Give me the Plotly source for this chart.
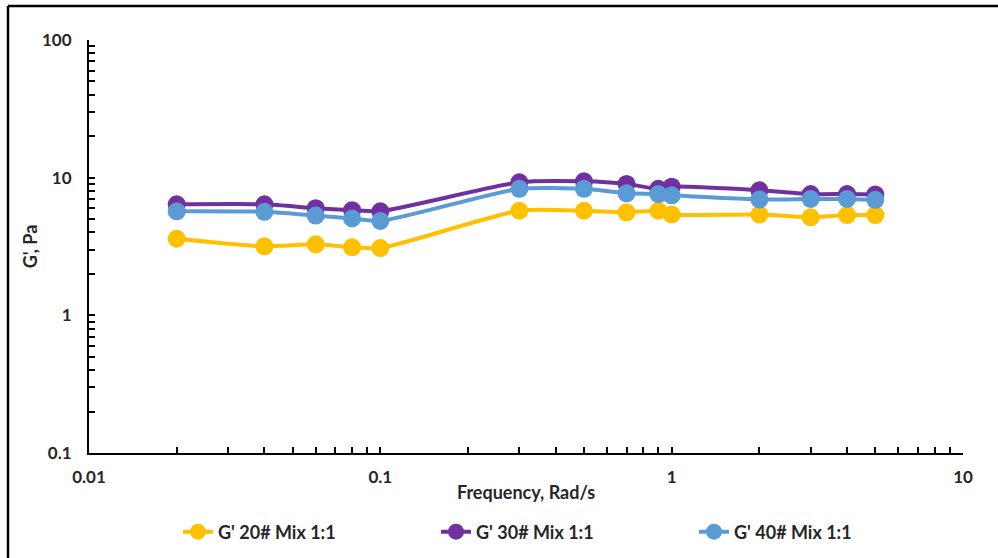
import plotly.graph_objects as go

freq = [0.02, 0.04, 0.06, 0.08, 0.1, 0.3, 0.5, 0.7, 0.9, 1, 2, 3, 4, 5]
g20 = [3.6, 3.17, 3.28, 3.12, 3.08, 5.75, 5.75, 5.6, 5.75, 5.4, 5.4, 5.15, 5.35, 5.35]
g30 = [6.4, 6.4, 6.0, 5.8, 5.7, 9.25, 9.4, 9.0, 8.3, 8.6, 8.1, 7.6, 7.6, 7.55]
g40 = [5.7, 5.65, 5.3, 5.05, 4.85, 8.3, 8.3, 7.7, 7.6, 7.45, 6.95, 7.0, 7.0, 6.9]

names = ["G' 20# Mix 1:1", "G' 30# Mix 1:1", "G' 40# Mix 1:1"]
colors = ["#FFC000", "#7030A0", "#5B9BD5"]
series = [g20, g30, g40]

x_major = [0.01, 0.1, 1, 10]
x_major_text = ["0.01", "0.1", "1", "10"]
y_major = [0.1, 1, 10, 100]
y_major_text = ["0.1", "1", "10", "100"]

x_minor = [m * d for d in (0.01, 0.1, 1) for m in range(2, 10)]
y_minor = [m * d for d in (0.1, 1, 10) for m in range(2, 10)]

font_fam = "Lato, 'Liberation Sans', sans-serif"
txt_col = "#262626"

PL, PR, PT, PB = 89, 963, 40, 453
PW, PH = PR - PL, PB - PT

legend_ids = ["legend", "legend2", "legend3"]
legend_px = [178, 436, 694]

fig = go.Figure()
for n, c, s, lid in zip(names, colors, series, legend_ids):
    fig.add_trace(go.Scatter(
        x=freq, y=s, name=n, mode="lines+markers", legend=lid,
        line=dict(color=c, width=4, shape="spline", smoothing=0.6),
        marker=dict(color=c, size=18),
    ))

axis_common = dict(
    type="log", showgrid=False, zeroline=False, showline=True,
    linecolor="black", linewidth=2, ticks="inside", ticklen=6,
    tickwidth=1.5, tickcolor="black", mirror=False,
    tickfont=dict(family=font_fam, size=17, color=txt_col, weight="bold"),
)

fig.update_xaxes(
    **axis_common, range=[-2, 1], tickmode="array",
    tickvals=x_major, ticktext=x_major_text, ticklabelstandoff=8,
    minor=dict(ticks="inside", ticklen=6, tickwidth=1.5, tickcolor="black",
               tickmode="array", tickvals=x_minor, showgrid=False),
    title=dict(text="Frequency, Rad/s", standoff=0,
               font=dict(family=font_fam, size=18, color=txt_col, weight="bold")),
)
fig.update_yaxes(
    **axis_common, range=[-1, 2], tickmode="array",
    tickvals=y_major, ticktext=y_major_text, ticklabelstandoff=12,
    minor=dict(ticks="inside", ticklen=6, tickwidth=1.5, tickcolor="black",
               tickmode="array", tickvals=y_minor, showgrid=False),
    title=dict(text="G', Pa", standoff=0,
               font=dict(family=font_fam, size=18, color=txt_col, weight="bold")),
)

# outer frame (top and left edges visible)
fx = (8 - PL) / PW
fy = 1 + (PT - 6) / PH
fig.add_shape(type="line", xref="paper", yref="paper",
              x0=fx, x1=1.1, y0=fy, y1=fy, line=dict(color="black", width=2.5))
fig.add_shape(type="line", xref="paper", yref="paper",
              x0=fx, x1=fx, y0=fy, y1=-0.4, line=dict(color="black", width=2.5))

legend_style = dict(
    orientation="h", xanchor="left", yanchor="middle",
    y=(PB - 532) / PH,
    font=dict(family=font_fam, size=18, color=txt_col, weight="bold"),
    bgcolor="rgba(0,0,0,0)",
)
layout_legends = {}
for lid, px in zip(legend_ids, legend_px):
    layout_legends[lid] = dict(legend_style, x=(px - PL) / PW)

fig.update_layout(
    width=998, height=558,
    margin=dict(l=PL, r=998 - PR, t=PT, b=558 - PB, autoexpand=False),
    plot_bgcolor="white", paper_bgcolor="white",
    font=dict(family=font_fam, color=txt_col),
    showlegend=True,
    **layout_legends,
)

fig.write_html("out.html")
